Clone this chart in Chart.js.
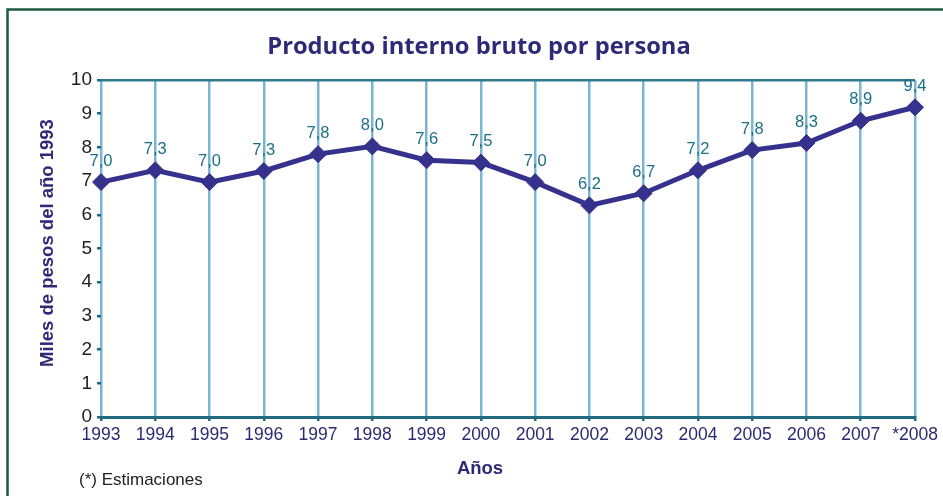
<!DOCTYPE html>
<html>
<head>
<meta charset="utf-8">
<script src="https://cdn.jsdelivr.net/npm/chart.js@4/dist/chart.umd.min.js"></script>
<style>
html,body{margin:0;padding:0;background:#fff;}
#wrap{position:relative;width:943px;height:496px;}
</style>
</head>
<body>
<div id="wrap"><canvas id="c" width="943" height="496"></canvas></div>
<script>
const years = ['1993','1994','1995','1996','1997','1998','1999','2000','2001','2002','2003','2004','2005','2006','2007','*2008'];
const pibPorPersona = [6.97,7.32,6.97,7.30,7.80,8.03,7.62,7.55,6.97,6.28,6.64,7.32,7.92,8.13,8.79,9.19];
const etiquetas = ['7,0','7,3','7,0','7,3','7,8','8,0','7,6','7,5','7,0','6,2','6,7','7,2','7,8','8,3','8,9','9,4'];
const yTicks = [0,1,2,3,4,5,6,7,8,9,10];
const titulo = 'Producto interno bruto por persona';
const tituloY = 'Miles de pesos del año 1993';
const tituloX = 'Años';
const nota = '(*) Estimaciones';

const NAVY = '#2e2a78';
const TEAL = '#1f6a80';
const GRIDBLUE = '#7ab5d1';

const decor = {
  id: 'decor',
  beforeDraw(chart) {
    const ctx = chart.ctx;
    ctx.save();
    ctx.fillStyle = '#fff';
    ctx.fillRect(0, 0, chart.width, chart.height);
    ctx.strokeStyle = '#1e5b3e';
    ctx.lineWidth = 2.5;
    ctx.beginPath();
    ctx.moveTo(7.5, chart.height);
    ctx.lineTo(7.5, 9.5);
    ctx.lineTo(chart.width, 9.5);
    ctx.stroke();
    ctx.restore();
  },
  afterDraw(chart) {
    const ctx = chart.ctx;
    ctx.save();
    // title
    ctx.fillStyle = NAVY;
    ctx.textAlign = 'center';
    ctx.textBaseline = 'middle';
    ctx.font = 'bold 23.7px "Open Sans", Arial, sans-serif';
    ctx.fillText(titulo, 479, 47);
    // x title
    ctx.font = 'bold 18.5px "Liberation Sans", Arial, sans-serif';
    ctx.fillText(tituloX, 480, 469);
    // y title
    ctx.save();
    ctx.translate(48, 243);
    ctx.rotate(-Math.PI / 2);
    ctx.fillText(tituloY, 0, 0);
    ctx.restore();
    // note
    ctx.fillStyle = '#222';
    ctx.textAlign = 'left';
    ctx.font = '17px "Liberation Sans", Arial, sans-serif';
    ctx.fillText(nota, 79, 480);
    // data labels
    const meta = chart.getDatasetMeta(0);
    ctx.fillStyle = '#1b6e85';
    ctx.textAlign = 'center';
    ctx.font = '16.5px "Liberation Sans", Arial, sans-serif';
    meta.data.forEach((pt, i) => {
      ctx.fillText(etiquetas[i], pt.x, pt.y - 21);
    });
    ctx.restore();
  }
};

new Chart(document.getElementById('c'), {
  type: 'line',
  data: {
    labels: years,
    datasets: [{
      data: pibPorPersona,
      borderColor: '#36318c',
      backgroundColor: '#36318c',
      borderWidth: 5,
      pointStyle: 'rectRot',
      pointRadius: 8.5,
      pointHoverRadius: 8.5,
      pointBorderWidth: 1,
      pointBackgroundColor: '#36318c',
      pointBorderColor: '#36318c',
      tension: 0,
      clip: false
    }]
  },
  options: {
    responsive: false,
    animation: false,
    events: [],
    layout: { padding: { left: 60, right: 28, top: 80, bottom: 0 } },
    plugins: { legend: { display: false }, tooltip: { enabled: false }, title: { display: false } },
    scales: {
      x: {
        offset: false,
        afterFit(s) { s.height = 79; },
        grid: {
          color: GRIDBLUE,
          lineWidth: 2.5,
          tickColor: TEAL,
          tickLength: 4,
          drawOnChartArea: true
        },
        border: { display: true, color: TEAL, width: 3 },
        ticks: {
          color: '#2b2a6e',
          font: { family: '"Liberation Sans", Arial, sans-serif', size: 17.5 },
          padding: 4,
          maxRotation: 0,
          autoSkip: false
        }
      },
      y: {
        min: 0,
        max: 10,
        afterFit(s) { s.width = 41; },
        afterBuildTicks(s) { s.ticks = yTicks.map(v => ({ value: v })); },
        grid: {
          color: (c) => (c.tick && c.tick.value === 10 ? '#2f7a91' : 'rgba(0,0,0,0)'),
          lineWidth: 2.5,
          tickColor: TEAL,
          tickLength: 4
        },
        border: { display: false },
        ticks: {
          color: '#222',
          font: { family: '"Liberation Sans", Arial, sans-serif', size: 19 },
          padding: 5
        }
      }
    }
  },
  plugins: [decor]
});
</script>
</body>
</html>
